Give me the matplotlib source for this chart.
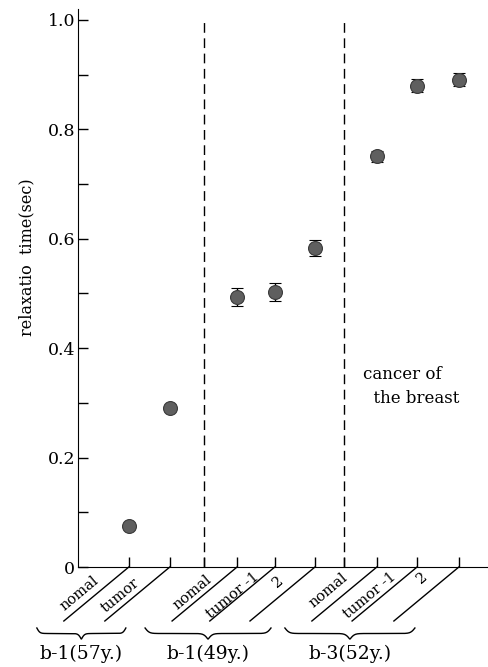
import matplotlib
matplotlib.use("Agg")
import matplotlib.pyplot as plt
import numpy as np

plt.rcParams["font.family"] = "DejaVu Serif"

# data
labels = ["nomal", "tumor", "nomal", "tumor -1", "2", "nomal", "tumor -1", "2"]
values = [0.075, 0.290, 0.494, 0.503, 0.583, 0.751, 0.880, 0.891]
errors = [0.0, 0.0, 0.016, 0.017, 0.015, 0.010, 0.012, 0.012]
groups = ["b-1(57y.)", "b-1(49y.)", "b-3(52y.)"]
group_members = [[0, 1], [2, 3, 4], [5, 6, 7]]

# layout (x axis runs 0..10)
xpos = [1.24, 2.24, 3.88, 4.80, 5.78, 7.29, 8.27, 9.29]
dividers = [3.07, 6.49]
label_off = [(-49, -26), (-50, -28), (-45, -25), (-42, -28), (-37, -15),
             (-49, -23), (-47, -28), (-37, -11)]

W, H = 488, 667
fig = plt.figure(figsize=(W / 100, H / 100), dpi=100)
ax = fig.add_axes([78 / W, 100 / H, 410 / W, 558 / H])
ax.set_xlim(0, 10)
ax.set_ylim(0, 1.02)

# pixel -> data helpers
px_x = 10 / 410
px_y = 1.02 / 558

for d in dividers:
    ax.axvline(d, color="black", lw=1.0, ls=(0, (7, 4)), ymax=0.985)

ax.errorbar(xpos, values, yerr=errors, fmt="o", ms=10, mfc="#5f5f5f",
            mec="#3a3a3a", mew=0.8, ecolor="black", elinewidth=1.0,
            capsize=4.5, capthick=1.5, zorder=3)

ax.spines["top"].set_visible(False)
ax.spines["right"].set_visible(False)
ax.set_yticks([0, 0.2, 0.4, 0.6, 0.8, 1.0])
ax.set_yticklabels(["0", "0.2", "0.4", "0.6", "0.8", "1.0"], fontsize=12.5)
ax.set_yticks([0.1, 0.3, 0.5, 0.7, 0.9], minor=True)
ax.tick_params(axis="y", which="both", direction="in", length=7, width=1,
               pad=2)
ax.set_xticks(sorted(xpos + dividers))
ax.set_xticklabels([])
ax.tick_params(axis="x", direction="in", length=7, width=1)

ax.set_ylabel("relaxatio  time(sec)", fontsize=11.5)
ax.yaxis.set_label_coords(-0.105, 0.556)

# slanted category lines and labels
for x, lab, (ox, oy) in zip(xpos, labels, label_off):
    ax.plot([x, x - 65 * px_x], [0, -54 * px_y], color="black", lw=1.0,
            clip_on=False)
    ax.annotate(lab, (x, 0), xytext=(ox, oy), textcoords="offset pixels",
                rotation=40, ha="center", va="center", rotation_mode="anchor",
                fontsize=10.5, annotation_clip=False)

# group braces
def brace(x1, x2, ytop, h):
    t = np.linspace(0, 0.5, 150)
    beta = 60
    half = 1 / (1 + np.exp(-beta * (t - t[0]))) + 1 / (1 + np.exp(-beta * (t - t[-1])))
    y = np.concatenate([half, half[::-1]])
    y = (y - y.min()) / (y.max() - y.min())
    xs = np.linspace(x1, x2, len(y))
    ax.plot(xs, ytop - h * y, color="black", lw=1.0, clip_on=False)

for name, idx in zip(groups, group_members):
    x1 = xpos[idx[0]] - 92 * px_x
    x2 = xpos[idx[-1]] - 44 * px_x
    brace(x1, x2, -61 * px_y, 11 * px_y)
    ax.text((x1 + x2) / 2, -87 * px_y, name, ha="center", va="center",
            fontsize=13.5, clip_on=False)

ax.text(6.95, 0.33, "cancer of\n  the breast", fontsize=12, ha="left",
        va="center", linespacing=1.5)

fig.savefig("out.png", dpi=100)
